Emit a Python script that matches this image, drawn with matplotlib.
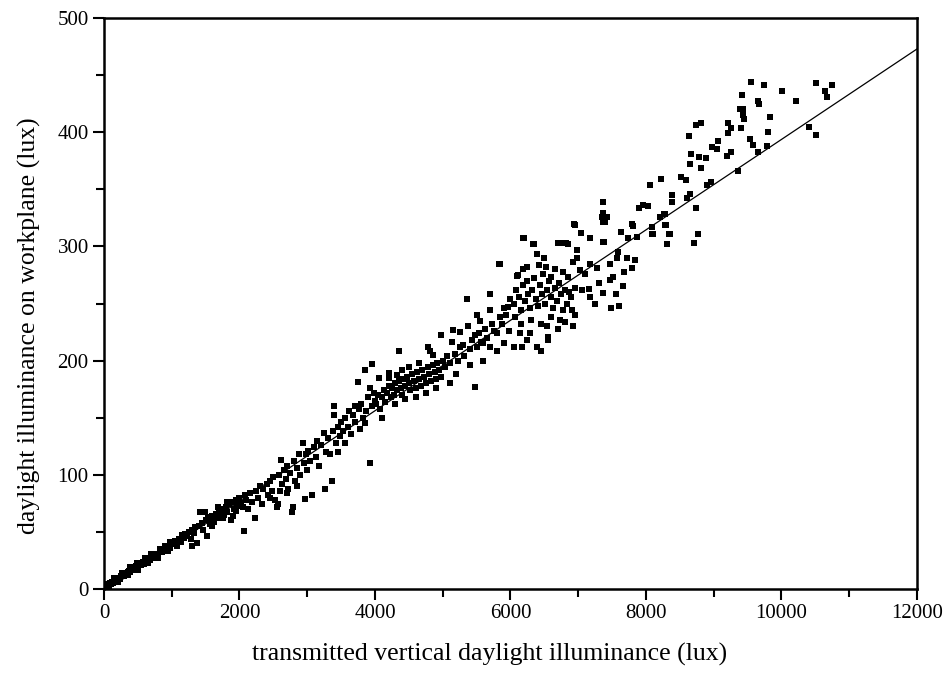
import numpy as np
import matplotlib
matplotlib.use("Agg")
import matplotlib.pyplot as plt
from matplotlib.ticker import MultipleLocator

plt.rcParams['font.family'] = ['Liberation Serif', 'DejaVu Serif']

# transmitted vertical daylight illuminance (lux) / workplane illuminance (lux)
# grouped by x range
x_0_1000 = [0, 10, 20, 30, 45, 60, 75, 90, 100, 115, 130, 145, 160, 175, 190, 205, 220, 240, 255, 270,
            290, 305, 320, 340, 355, 370, 390, 405, 420, 440, 455, 470, 490, 505, 520, 540, 555, 570, 590, 610,
            625, 640, 660, 680, 700, 720, 740, 760, 780, 800, 825, 850, 870, 895, 920, 945, 970, 995,
            150, 260, 380, 480, 600, 700, 820, 900, 980, 200, 350, 500, 650, 800, 950]
y_0_1000 = [1, 2, 1, 3, 2, 4, 3, 5, 4, 6, 5, 7, 6, 8, 7, 9, 10, 9, 11, 12,
            11, 13, 14, 13, 15, 16, 15, 17, 18, 17, 19, 20, 19, 21, 22, 21, 23, 24, 22, 25,
            24, 26, 27, 25, 28, 29, 27, 30, 31, 30, 33, 32, 34, 35, 36, 37, 36, 39,
            10, 14, 19, 23, 27, 31, 35, 38, 41, 6, 12, 17, 23, 27, 33]

x_1000_2000 = [1020, 1050, 1080, 1100, 1130, 1150, 1180, 1200, 1230, 1250, 1280, 1300, 1299, 1330, 1350,
               1373, 1400, 1417, 1440, 1460, 1490, 1500, 1520, 1540, 1560, 1580, 1600, 1620, 1650, 1670,
               1700, 1720, 1750, 1770, 1800, 1820, 1850, 1870, 1900, 1920, 1950, 1970, 2000, 2020,
               1600, 1750, 1900, 1680, 1820, 1950]
y_1000_2000 = [40, 42, 38, 44, 41, 47, 45, 48, 46, 50, 44, 52, 38, 49, 54,
               40, 55, 67, 58, 52, 67, 60, 46, 63, 57, 61, 64, 59, 66, 62,
               68, 63, 70, 65, 72, 67, 74, 60, 76, 70, 78, 73, 80, 75,
               55, 62, 64, 72, 76, 68]

x_2000_3000 = [2066, 2050, 2080, 2100, 2130, 2150, 2180, 2229, 2250, 2280, 2300, 2330, 2350, 2400, 2420,
               2450, 2480, 2500, 2520, 2553, 2568, 2580, 2612, 2630, 2650, 2680, 2700, 2720, 2750, 2775,
               2790, 2800, 2820, 2850, 2880, 2900, 2937, 2950, 2967, 2980, 3000, 2700, 2850, 2600, 2450]
y_2000_3000 = [51, 72, 82, 78, 70, 84, 76, 62, 86, 80, 90, 74, 88, 92, 82,
               95, 86, 98, 78, 72, 74, 100, 113, 92, 104, 96, 108, 88, 102, 67,
               72, 112, 95, 106, 118, 100, 128, 110, 79, 118, 104, 84, 90, 86, 80]

x_3000_4000 = [3011, 3040, 3070, 3100, 3130, 3150, 3180, 3200, 3247, 3262, 3280, 3300, 3330, 3365, 3380,
               3395, 3395, 3420, 3450, 3480, 3500, 3530, 3560, 3600, 3620, 3650, 3680, 3700, 3749, 3760,
               3780, 3800, 3820, 3852, 3870, 3900, 3926, 3926, 3950, 3956, 3980, 4000, 3850, 3700, 3550, 3450]
y_3000_4000 = [121, 112, 82, 124, 116, 130, 108, 126, 137, 88, 120, 132, 118, 95, 138,
               152, 160, 128, 142, 134, 146, 138, 150, 142, 156, 136, 152, 146, 181, 158,
               140, 162, 150, 192, 156, 168, 110, 176, 160, 197, 172, 165, 145, 160, 128, 120]

x_4000_5000 = [4059, 4207, 4325, 4354, 4502, 4782, 4812, 4974,
               4020, 4050, 4080, 4100, 4130, 4150, 4180, 4200, 4230, 4250, 4280, 4300, 4320, 4350, 4380,
               4400, 4420, 4450, 4470, 4500, 4520, 4550, 4570, 4600, 4620, 4650, 4680, 4700, 4720, 4750,
               4780, 4800, 4830, 4850, 4880, 4900, 4920, 4950, 4980, 5000,
               4100, 4300, 4450, 4600, 4750, 4900, 4200, 4400, 4650, 4850]
y_4000_5000 = [185, 189, 187, 208, 194, 212, 208, 222,
               162, 170, 158, 168, 174, 164, 172, 178, 168, 176, 170, 180, 174, 182, 176,
               170, 184, 178, 186, 180, 174, 188, 182, 176, 190, 184, 178, 192, 186, 180,
               194, 188, 182, 196, 190, 184, 198, 192, 186, 200,
               150, 162, 166, 168, 172, 176, 185, 192, 198, 205]

x_5000_6000 = [5030, 5060, 5100, 5151, 5136, 5180, 5220, 5250, 5299, 5320, 5358, 5373, 5400, 5430, 5476,
               5476, 5500, 5530, 5560, 5594, 5620, 5650, 5697, 5697, 5720, 5750, 5800, 5830, 5845, 5850,
               5880, 5900, 5930, 5963, 5980, 6000, 5200, 5400, 5600, 5800, 5100, 5900, 5500, 5700,
               5250, 5550]
y_5000_6000 = [194, 204, 198, 227, 216, 206, 200, 212, 214, 204, 254, 230, 210, 218, 222,
               177, 212, 224, 216, 215, 228, 220, 244, 212, 232, 226, 224, 285, 285, 238,
               232, 246, 240, 247, 226, 254, 188, 196, 200, 208, 180, 215, 240, 258,
               225, 235]

x_6000_7000 = [6096, 6111, 6140, 6170, 6184, 6184, 6199, 6288, 6332, 6347, 6391, 6391, 6421, 6524, 6539,
               6553, 6553, 6598, 6701, 6730, 6760, 6775, 6819, 6849, 6849, 6908, 6922, 6922, 6952, 6982,
               6982, 6937, 7026,
               6050, 6080, 6120, 6150, 6180, 6210, 6240, 6260, 6290, 6320, 6350, 6370, 6400, 6430, 6460,
               6480, 6510, 6540, 6570, 6600, 6630, 6660, 6690, 6720, 6750, 6780, 6800, 6830, 6860, 6900,
               6950, 6150, 6300, 6450, 6600, 6700, 6060, 6250, 6500, 6650, 6050, 6250, 6450, 6800, 6950]
y_6000_7000 = [274, 275, 224, 212, 280, 307, 307, 224, 302, 302, 293, 212, 284, 282, 230,
               221, 218, 273, 303, 236, 303, 278, 303, 302, 273, 244, 230, 286, 319, 297,
               290, 320, 279,
               250, 262, 256, 244, 266, 252, 270, 258, 246, 262, 272, 254, 248, 266, 258,
               276, 250, 262, 270, 256, 246, 264, 252, 268, 258, 244, 262, 250, 260, 256,
               264, 232, 236, 232, 238, 228, 238, 282, 290, 280, 212, 218, 208, 234, 240]

x_7000_8000 = [7040, 7100, 7159, 7173, 7173, 7173, 7277, 7351, 7365, 7365, 7365, 7365, 7365, 7380, 7395,
               7424, 7469, 7469, 7513, 7572, 7587, 7631, 7661, 7675, 7720, 7734, 7793, 7793, 7808, 7838,
               7867, 7897, 7956, 7050, 7240, 7300, 7480, 7550, 7600]
y_7000_8000 = [312, 276, 263, 256, 285, 307, 281, 326, 259, 304, 339, 321, 329, 304, 321,
               326, 285, 271, 273, 290, 295, 313, 265, 278, 290, 307, 281, 320, 318, 288,
               308, 334, 336, 262, 250, 268, 246, 258, 248]

x_8000_9000 = [8029, 8059, 8088, 8088, 8103, 8206, 8221, 8265, 8280, 8280, 8295, 8310, 8339, 8354, 8383,
               8383, 8517, 8590, 8605, 8635, 8650, 8650, 8664, 8709, 8738, 8738, 8767, 8782, 8812, 8812,
               8886, 8900, 8959, 8974]
y_8000_9000 = [335, 354, 317, 311, 311, 326, 359, 328, 328, 319, 319, 302, 311, 311, 345,
               339, 361, 358, 342, 397, 372, 346, 381, 303, 406, 334, 311, 378, 408, 369,
               377, 354, 356, 387]

x_9000_11000 = [9048, 9063, 9195, 9210, 9210, 9254, 9254, 9358, 9387, 9402, 9417, 9432, 9432, 9446, 9535,
                9550, 9579, 9653, 9653, 9668, 9742, 9786, 9800, 9830, 10007, 10214, 10406, 10509, 10509,
                10642, 10671, 10745]
y_9000_11000 = [385, 392, 379, 408, 399, 404, 383, 366, 420, 404, 433, 420, 415, 412, 394,
                444, 389, 427, 383, 425, 441, 388, 400, 413, 436, 427, 405, 398, 443,
                436, 431, 441]

# regression line
fit_slope = 0.0396
fit_intercept = -2.3

transmitted = np.array(x_0_1000 + x_1000_2000 + x_2000_3000 + x_3000_4000 + x_4000_5000 +
                       x_5000_6000 + x_6000_7000 + x_7000_8000 + x_8000_9000 + x_9000_11000, dtype=float)
workplane = np.array(y_0_1000 + y_1000_2000 + y_2000_3000 + y_3000_4000 + y_4000_5000 +
                     y_5000_6000 + y_6000_7000 + y_7000_8000 + y_8000_9000 + y_9000_11000, dtype=float)

fig = plt.figure(figsize=(9.48, 6.75), dpi=100)
ax = fig.add_axes([0.1097, 0.1274, 0.8576, 0.8459])

ax.scatter(transmitted, workplane, marker='s', s=25, c='black', linewidths=0, zorder=3)

x_line = np.array([-fit_intercept / fit_slope, 12000])
ax.plot(x_line, fit_slope * x_line + fit_intercept, color='black', lw=0.9, zorder=2)

ax.set_xlim(0, 12000)
ax.set_ylim(0, 500)
ax.xaxis.set_major_locator(MultipleLocator(2000))
ax.xaxis.set_minor_locator(MultipleLocator(1000))
ax.yaxis.set_major_locator(MultipleLocator(100))
ax.yaxis.set_minor_locator(MultipleLocator(50))
ax.tick_params(which='both', direction='out', width=1.5, labelsize=15, pad=3)
ax.tick_params(which='major', length=8)
ax.tick_params(which='minor', length=6)
for sp in ax.spines.values():
    sp.set_linewidth(1.8)

# labels sit a bit off-centre in the original
ax.set_xlabel('transmitted vertical daylight illuminance (lux)', fontsize=18.5, labelpad=14, x=0.474)
ax.set_ylabel('daylight illuminance on workplane (lux)', fontsize=18.5, labelpad=12, y=0.462)

fig.savefig('out.png', dpi=100)
